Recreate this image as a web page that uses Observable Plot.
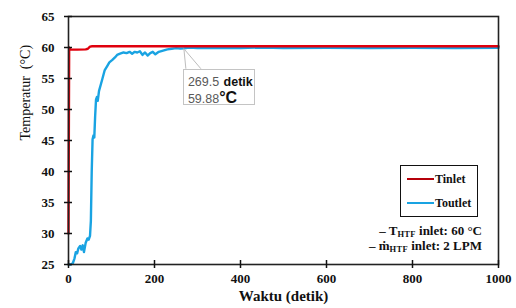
<!DOCTYPE html>
<html>
<head>
<meta charset="utf-8">
<script src="https://cdn.jsdelivr.net/npm/d3@7"></script>
<script src="https://cdn.jsdelivr.net/npm/@observablehq/plot@0.6"></script>
<style>
  html, body { margin: 0; padding: 0; background: #fff; }
  #wrap { position: relative; width: 516px; height: 308px; overflow: hidden; }
  #wrap svg text { font-family: "Liberation Serif", "DejaVu Serif", serif !important; }
  #legend { position: absolute; left: 400px; top: 165px; width: 78px; height: 52px;
    border: 1.5px solid #111; box-sizing: border-box; background: #fff; }
  .lg-row { position: absolute; left: 6px; height: 14px; line-height: 14px; font: bold 12px "Liberation Serif", serif; color: #111; white-space: nowrap; }
  .lg-line { display: inline-block; width: 27px; height: 0; border-top: 2px solid; vertical-align: middle; margin-right: 1px; position: relative; top: -1px; }
  .note { position: absolute; right: 34px; height: 12px; line-height: 12px; font: bold 13px "Liberation Serif", serif; color: #111; white-space: nowrap; text-align: right; }
  .note sub { font-size: 8.5px; line-height: 8px; vertical-align: -2px; letter-spacing: 0.3px; }
  #callout { position: absolute; border: 1px solid #c4c4c4; background: #fff; box-sizing: border-box;
    font-family: "Liberation Sans", Arial, sans-serif; padding: 3px 0 0 4px; line-height: 16px; }
  #callout .g { color: #595959; font-size: 12.5px; }
  #callout .b { color: #111; font-weight: bold; font-size: 12.5px; }
  #callout .c { color: #111; font-weight: bold; font-size: 16px; }
</style>
</head>
<body>
<div id="wrap"></div>
<script>
// ---- data ----
const tinletTime = [0, 1.5, 4, 20, 40, 45, 50, 55, 200, 400, 600, 800, 1000];
const tinletTemp = [30, 60, 59.7, 59.65, 59.7, 59.8, 60.15, 60.2, 60.2, 60.2, 60.2, 60.2, 60.2];

const toutletTime = [0, 5, 10, 14, 17, 20, 23, 27, 30, 33, 36, 40, 44, 47, 50, 52, 54, 56, 58, 60, 62, 64, 66, 68, 71, 75, 79, 84, 90, 95, 102, 108, 113, 120, 128, 135, 142, 148, 154, 160, 166, 172, 178, 184, 190, 196, 202, 210, 220, 230, 240, 250, 260, 269.5, 280, 300, 350, 400, 450, 500, 600, 700, 800, 900, 1000];
const toutletTemp = [25, 25, 25.2, 26, 27, 26.8, 27.6, 28, 27.4, 28.1, 27, 28.5, 29.2, 29, 29.6, 32, 40, 45.2, 45.8, 45.5, 49, 51.6, 52, 51.4, 53, 54, 55, 56.3, 57, 57.6, 58, 58.4, 58.8, 59, 59.2, 59.1, 59.3, 59.0, 59.3, 59.2, 59.4, 58.8, 59.2, 58.7, 59.1, 59.3, 58.9, 59.3, 59.5, 59.7, 59.8, 59.9, 59.85, 59.88, 60, 59.9, 59.95, 59.9, 60, 59.9, 59.95, 59.9, 59.95, 59.9, 59.95];

const xTicks = [0, 200, 400, 600, 800, 1000];
const yTicks = [25, 30, 35, 40, 45, 50, 55, 60, 65];
const seriesNames = ["Tinlet", "Toutlet"];
const seriesColors = ["#e0000d", "#19a3e2"];
const annot = {t: 269.5, v: 59.88, label1: "269.5", unit1: "detik", label2: "59.88", unit2: "°C"};

const tin = tinletTime.map((t, i) => ({t, v: tinletTemp[i], s: "Tinlet"}));
const tout = toutletTime.map((t, i) => ({t, v: toutletTemp[i], s: "Toutlet"}));

const serifBold = {fontWeight: "bold", fontSize: 13, fill: "#111"};

const chart = Plot.plot({
  width: 516, height: 308,
  marginTop: 16, marginRight: 18, marginBottom: 44, marginLeft: 68,
  style: {background: "#fff", overflow: "visible"},
  x: {domain: [0, 1000]},
  y: {domain: [25, 65]},
  marks: [
    Plot.line(tout, {x: "t", y: "v", stroke: seriesColors[1], strokeWidth: 2.4}),
    Plot.line(tin, {x: "t", y: "v", stroke: seriesColors[0], strokeWidth: 2.4}),
    Plot.frame({stroke: "#222", strokeWidth: 1.6}),
    // crossing ticks
    Plot.axisY({ticks: yTicks, tickSize: 8, dx: 4, tickFormat: () => "", label: null, stroke: "#111", strokeWidth: 1.5}),
    Plot.axisX({ticks: xTicks, tickSize: 8, dy: -4, tickFormat: () => "", label: null, stroke: "#111", strokeWidth: 1.5}),
    // tick labels
    Plot.axisY({ticks: yTicks, tickSize: 0, tickPadding: 14, tickFormat: d => String(d), label: null, ...serifBold}),
    Plot.axisX({ticks: xTicks, tickSize: 0, tickPadding: 9, tickFormat: d => String(d), label: null, ...serifBold}),
    // axis titles
    Plot.text(["Waktu (detik)"], {frameAnchor: "bottom", dy: 36, fontWeight: "bold", fontSize: 15, fill: "#111"}),
    Plot.text(["Temperatur  (°C)"], {frameAnchor: "left", rotate: -90, dx: -43, fontSize: 14, fill: "#111"})
  ]
});

const wrap = document.getElementById("wrap");
wrap.appendChild(chart);

// legend
const legend = document.createElement("div");
legend.id = "legend";
legend.innerHTML = seriesNames.map((n, i) =>
  `<div class="lg-row" style="top:${i === 0 ? 6 : 30}px"><span class="lg-line" style="border-color:${i === 0 ? "#b5000a" : seriesColors[1]}"></span>${n}</div>`).join("");
wrap.appendChild(legend);

// notes
const n1 = document.createElement("div");
n1.className = "note"; n1.style.top = "223px";
n1.innerHTML = "– T<sub>HTF</sub> inlet: 60 °C";
const n2 = document.createElement("div");
n2.className = "note"; n2.style.top = "238px";
n2.innerHTML = "– ṁ<sub>HTF</sub> inlet: 2 LPM";
wrap.appendChild(n1); wrap.appendChild(n2);

// callout anchored to data point
const sx = chart.scale("x"), sy = chart.scale("y");
const px = sx.apply(annot.t), py = sy.apply(annot.v);
const bx = px - 1, by = py + 21, bw = 72, bh = 36;
const ns = "http://www.w3.org/2000/svg";
const conn = document.createElementNS(ns, "svg");
conn.setAttribute("width", 516); conn.setAttribute("height", 308);
conn.style.position = "absolute"; conn.style.left = "0"; conn.style.top = "0";
const pl = document.createElementNS(ns, "polyline");
pl.setAttribute("points", `${bx + 3},${by} ${px},${py + 1} ${bx + 18},${by}`);
pl.setAttribute("fill", "none"); pl.setAttribute("stroke", "#bdbdbd"); pl.setAttribute("stroke-width", "1");
conn.appendChild(pl);
wrap.appendChild(conn);
const co = document.createElement("div");
co.id = "callout";
co.style.left = bx + "px"; co.style.top = by + "px"; co.style.width = bw + "px"; co.style.height = bh + "px";
co.innerHTML = `<span class="g">${annot.label1}</span> <span class="b">${annot.unit1}</span><br><span class="g">${annot.label2}</span><span class="c">${annot.unit2}</span>`;
wrap.appendChild(co);
</script>
</body>
</html>
